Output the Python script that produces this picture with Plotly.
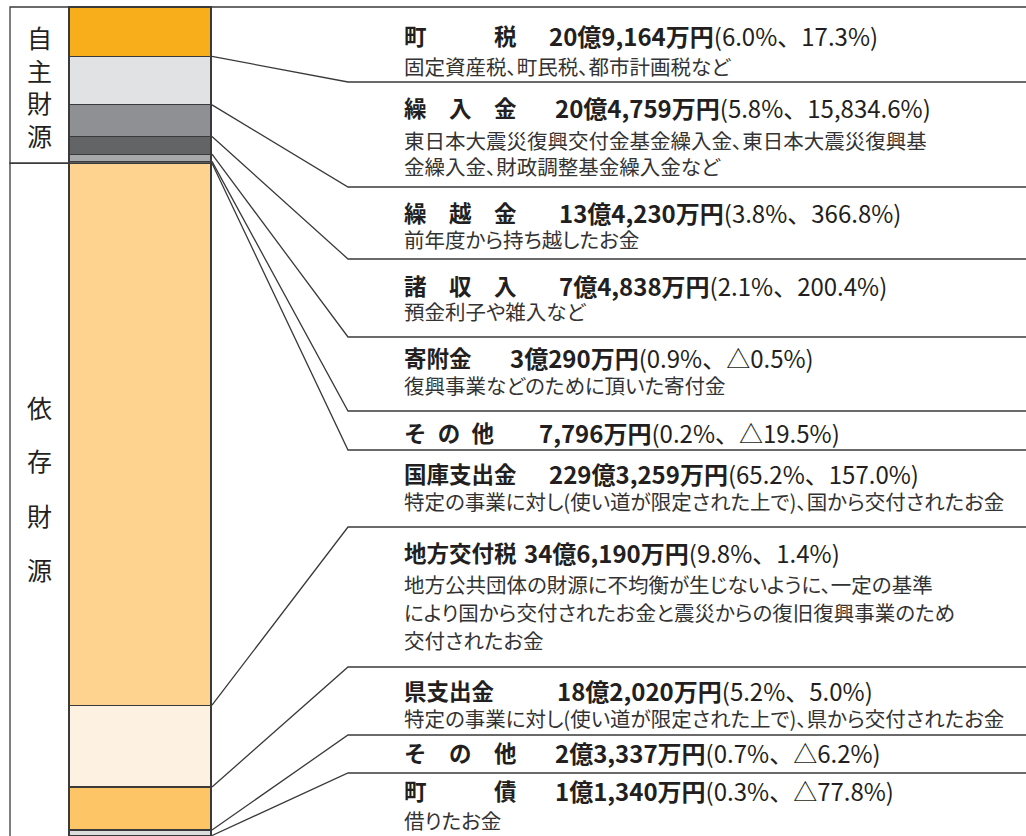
import plotly.graph_objects as go

# ---------------- data ----------------
categories = ["町税", "繰入金", "繰越金", "諸収入", "寄附金", "その他",
              "国庫支出金", "地方交付税", "県支出金", "その他", "町債"]
name_labels = ["町\u3000\u3000\u3000税", "繰\u3000入\u3000金", "繰\u3000越\u3000金", "諸\u3000収\u3000入",
               "寄附金", "そ\u2002の\u2002他", "国庫支出金", "地方交付税", "県支出金",
               "そ\u3000の\u3000他", "町\u3000\u3000\u3000債"]
amounts_man_yen = [209164, 204759, 134230, 74838, 30290, 7796,
                   2293259, 346190, 182020, 23337, 11340]
share_pct = [6.0, 5.8, 3.8, 2.1, 0.9, 0.2, 65.2, 9.8, 5.2, 0.7, 0.3]
change_pct = [17.3, 15834.6, 366.8, 200.4, -0.5, -19.5, 157.0, 1.4, 5.0, -6.2, -77.8]
group_names = ["自主財源", "依存財源"]
group_sizes = [6, 5]
descriptions = [
    ["固定資産税、町民税、都市計画税など"],
    ["東日本大震災復興交付金基金繰入金、東日本大震災復興基", "金繰入金、財政調整基金繰入金など"],
    ["前年度から持ち越したお金"],
    ["預金利子や雑入など"],
    ["復興事業などのために頂いた寄付金"],
    [],
    ["特定の事業に対し(使い道が限定された上で)、国から交付されたお金"],
    ["地方公共団体の財源に不均衡が生じないように、一定の基準",
     "により国から交付されたお金と震災からの復旧復興事業のため",
     "交付されたお金"],
    ["特定の事業に対し(使い道が限定された上で)、県から交付されたお金"],
    [],
    ["借りたお金"],
]

# ---------------- styles / layout positions (pixels) ----------------
colors = ["#F8AE1B", "#E1E2E3", "#8F9093", "#636466", "#A7A8AA", "#58595B",
          "#FDD38F", "#FDF1E2", "#FDC565", "#DCDCDC", "#F6A21B"]
W, H = 1026, 836
BAR_X, BAR_W = 140, 142          # bar centre / width in px units
TOP_PX, PX_99 = 7, 830           # calibration of the value scale
FONT = "Noto Sans CJK JP"
INK = "#231F20"
LINE = "#3A3A3A"

sep_px = [82, 187, 259, 337, 411, 450, 527, 667, 735, 773]
title_px = [35, 107, 212, 285, 357, 432, 473, 552, 690, 752, 790]
desc_px = [[66], [140, 166], [239], [311], [385], [], [501], [584, 612, 640], [718], [], [820]]
amount_x = [547, 553, 557, 557, 508, 537, 547, 522, 555, 553, 553]
text_x = 402
elbow_x = 348
group_char_px = [[40, 71, 101, 131], [407, 460, 515, 569]]
box_left = 10

# ---------------- helpers ----------------
cum = []
s = 0
for v in amounts_man_yen:
    s += v
    cum.append(s)
k = (PX_99 - TOP_PX) / cum[-3]          # px per 万円


def px_to_val(p):
    return (p - TOP_PX) / k


def fmt_amount(v):
    oku, man = divmod(v, 10000)
    out = ""
    if oku:
        out += f"{oku}億"
    if man:
        out += f"{man:,}"
    return out + "万円"


def fmt_change(c):
    return ("△" if c < 0 else "") + f"{abs(c):,.1f}%"


fig = go.Figure()

# stacked bar segments
for cat, v, col in zip(categories, amounts_man_yen, colors):
    fig.add_trace(go.Bar(x=[BAR_X], y=[v], width=BAR_W, name=cat,
                         marker=dict(color=col, line=dict(color=LINE, width=1.3)),
                         hoverinfo="skip", showlegend=False))

# leader lines: top edge, then each segment's bottom edge to the separator below its entry
starts = [0] + cum[:len(sep_px)]
ends_px = [TOP_PX] + sep_px
for sv, ep in zip(starts, ends_px):
    ev = px_to_val(ep)
    fig.add_trace(go.Scatter(x=[BAR_X + BAR_W / 2 + 1, elbow_x, W], y=[sv, ev, ev],
                             mode="lines", line=dict(color=LINE, width=1.3),
                             hoverinfo="skip", showlegend=False))

ann = []
desc_idx = []

# group boxes with vertical labels
g0 = 0
gstart = 0
box_cx = (box_left + BAR_X - BAR_W / 2) / 2
for gi, (gname, gsize) in enumerate(zip(group_names, group_sizes)):
    gend = cum[gstart + gsize - 1]
    fig.add_shape(type="rect", xref="x", yref="y", x0=box_left, x1=BAR_X - BAR_W / 2,
                  y0=g0, y1=gend, line=dict(color=LINE, width=1.3), fillcolor="rgba(0,0,0,0)",
                  layer="below")
    cps = group_char_px[gi]
    if cps[1] - cps[0] < 40:
        ann.append(dict(x=box_cx, y=px_to_val((cps[0] + cps[-1]) / 2), text="<br>".join(gname),
                        showarrow=False, xanchor="center", yanchor="middle",
                        font=dict(family=FONT, size=25, color=INK)))
    else:
        for ch, cp in zip(gname, cps):
            ann.append(dict(x=box_cx, y=px_to_val(cp), text=ch,
                            showarrow=False, xanchor="center", yanchor="middle",
                            font=dict(family=FONT, size=25, color=INK)))
    g0 = gend
    gstart += gsize

# entry texts
for i in range(len(categories)):
    ann.append(dict(x=text_x, y=px_to_val(title_px[i]), text=f"<b>{name_labels[i]}</b>",
                    showarrow=False, xanchor="left", yanchor="middle", align="left",
                    font=dict(family=FONT, size=22.5, color=INK)))
    ann.append(dict(x=amount_x[i], y=px_to_val(title_px[i]),
                    text=f"<b>{fmt_amount(amounts_man_yen[i])}</b>({share_pct[i]:.1f}%、{fmt_change(change_pct[i])})",
                    showarrow=False, xanchor="left", yanchor="middle", align="left",
                    font=dict(family=FONT, size=24, color=INK)))
    for line, lp in zip(descriptions[i], desc_px[i]):
        desc_idx.append(len(ann))
        ann.append(dict(x=text_x, y=px_to_val(lp), text=line,
                        showarrow=False, xanchor="left", yanchor="middle", align="left",
                        font=dict(family=FONT, size=20.5, color="#333333")))

fig.update_layout(
    width=W, height=H, autosize=False,
    margin=dict(l=0, r=0, t=0, b=0, pad=0),
    paper_bgcolor="white", plot_bgcolor="white",
    barmode="stack", bargap=0,
    xaxis=dict(range=[0, W], visible=False, fixedrange=True),
    yaxis=dict(range=[px_to_val(H), px_to_val(0)], visible=False, fixedrange=True),
    annotations=ann,
)

# proportional kana spacing for the description lines, as in the reference typesetting
sel = ",".join(f'g.annotation[data-index=\\"{j}\\"] text' for j in desc_idx)
post = ("document.body.style.margin='0';document.body.style.overflow='hidden';"
        "var st=document.createElement('style');"
        f"st.textContent=\"{sel}{{font-feature-settings:'palt' 1;}}\";"
        "document.head.appendChild(st);")
fig.write_html("out.html", config={"displayModeBar": False, "staticPlot": True},
               post_script=post)
